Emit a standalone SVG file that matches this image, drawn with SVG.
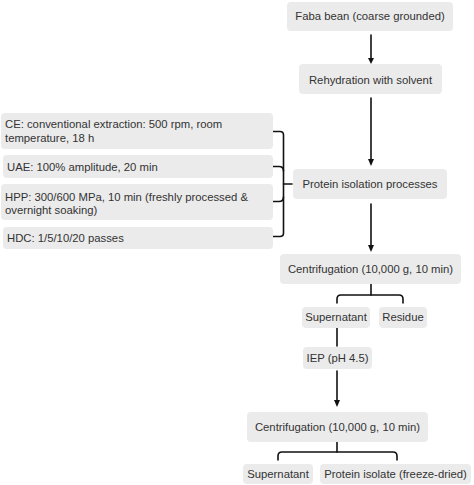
<svg xmlns="http://www.w3.org/2000/svg" width="474" height="485" viewBox="0 0 474 485">
<style>
.box{fill:#ebebeb;}
.t{font-family:"Liberation Sans",Arial,sans-serif;font-size:11.3px;fill:#333;}
.c{text-anchor:middle;}
.ln{fill:none;stroke:#111;stroke-width:1.6;stroke-linecap:round;stroke-linejoin:round;}
.ah{fill:#111;}
</style>
<rect width="474" height="485" fill="#fff"/>
<g id="connectors">
<path class="ln" d="M371,35 V58"/>
<path class="ah" d="M368,58 L374,58 L371,64 Z"/>
<path class="ln" d="M371,98 V159"/>
<path class="ah" d="M368,159 L374,159 L371,166 Z"/>
<path class="ln" d="M371,204 V245"/>
<path class="ah" d="M368,245 L374,245 L371,252 Z"/>
<path class="ln" d="M273,131.5 H280 Q283.5,131.5 283.5,135 V233 Q283.5,236.5 280,236.5 H273"/>
<path class="ln" d="M273,166.5 H279 Q283.5,166.5 283.5,171"/>
<path class="ln" d="M273,201.5 H279 Q283.5,201.5 283.5,197"/>
<path class="ln" d="M283.5,184 H292"/>
<path class="ln" d="M371,284 V295"/>
<path class="ln" d="M337,303 V299 Q337,295 341,295 H399 Q403,295 403,299 V303"/>
<path class="ln" d="M337,328 V346"/>
<path class="ln" d="M337,371 V400"/>
<path class="ah" d="M334,400 L340,400 L337,407 Z"/>
<path class="ln" d="M337,442 V452"/>
<path class="ln" d="M278,460 V456 Q278,452 282,452 H393 Q397,452 397,456 V460"/>
</g>
<g id="n1"><rect class="box" x="287" y="2" width="166" height="29" rx="4"/><text class="t c" x="370" y="20">Faba bean (coarse grounded)</text></g>
<g id="n2"><rect class="box" x="299" y="64" width="143" height="30" rx="4"/><text class="t c" x="370.5" y="83.5">Rehydration with solvent</text></g>
<g id="n3"><rect class="box" x="293" y="169" width="154" height="30" rx="4"/><text class="t c" x="370" y="188">Protein isolation processes</text></g>
<g id="ce"><rect class="box" x="1" y="113" width="272" height="36" rx="4"/><text class="t" x="5" y="127.5">CE: conventional extraction: 500 rpm, room</text><text class="t" x="5" y="141.5">temperature, 18 h</text></g>
<g id="uae"><rect class="box" x="3" y="155" width="270" height="23" rx="4"/><text class="t" x="7" y="170.5">UAE: 100% amplitude, 20 min</text></g>
<g id="hpp"><rect class="box" x="1" y="184" width="272" height="36" rx="4"/><text class="t" x="5" y="200.5">HPP: 300/600 MPa, 10 min (freshly processed &amp;</text><text class="t" x="5" y="214">overnight soaking)</text></g>
<g id="hdc"><rect class="box" x="3" y="227" width="270" height="22" rx="4"/><text class="t" x="7" y="241.5">HDC: 1/5/10/20 passes</text></g>
<g id="n4"><rect class="box" x="280" y="254" width="181" height="30" rx="4"/><text class="t c" x="370.5" y="273">Centrifugation (10,000 g, 10 min)</text></g>
<g id="n5"><rect class="box" x="302" y="307" width="68" height="21" rx="4"/><text class="t c" x="336" y="321">Supernatant</text></g>
<g id="n6"><rect class="box" x="379" y="307" width="48" height="21" rx="4"/><text class="t c" x="403" y="321">Residue</text></g>
<g id="n7"><rect class="box" x="303" y="347" width="69" height="22" rx="4"/><text class="t c" x="337.5" y="362">IEP (pH 4.5)</text></g>
<g id="n8"><rect class="box" x="247" y="412" width="181" height="30" rx="4"/><text class="t c" x="337.5" y="431">Centrifugation (10,000 g, 10 min)</text></g>
<g id="n9"><rect class="box" x="243" y="464" width="70" height="20" rx="4"/><text class="t c" x="278" y="477.5">Supernatant</text></g>
<g id="n10"><rect class="box" x="320" y="464" width="151" height="20" rx="4"/><text class="t c" x="395.5" y="477.5">Protein isolate (freeze-dried)</text></g>
</svg>
